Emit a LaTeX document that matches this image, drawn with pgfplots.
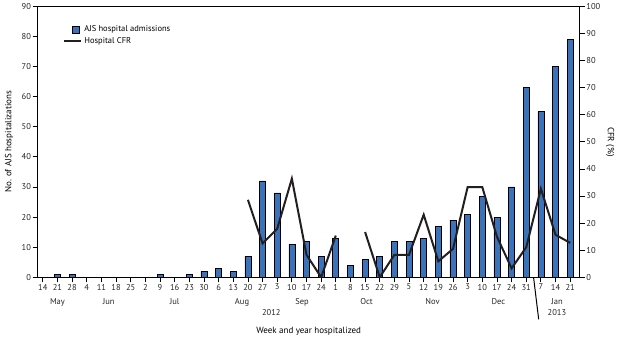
\documentclass[border=0pt]{standalone}
\usepackage{pgfplots}
\pgfplotsset{compat=1.18}
\usepackage{pgfplotstable}
\usepackage{fontspec}
\setmainfont{PT Sans}
\definecolor{barblue}{RGB}{58,115,186}
\definecolor{linedark}{RGB}{35,31,32}

\pgfplotstableread{
i n
0 0
1 1
2 1
3 0
4 0
5 0
6 0
7 0
8 1
9 0
10 1
11 2
12 3
13 2
14 7
15 32
16 28
17 11
18 12
19 7
20 13
21 4
22 6
23 7
24 12
25 12
26 13
27 17
28 19
29 21
30 27
31 20
32 30
33 63
34 55
35 70
36 79
}\admissions

\begin{document}
\begin{tikzpicture}
\useasboundingbox (-37.7pt,-60.7pt) rectangle (583.3pt,277.3pt);
\begin{axis}[
  scale only axis, width=542pt, height=271pt,
  xmin=-0.35, xmax=36.65, ymin=0, ymax=90,
  xtick pos=bottom, ytick pos=left,
  tick align=outside, major tick length=5pt,
  xtick={0,...,36},
  xticklabels={14,21,28,4,11,18,25,2,9,16,23,30,6,13,20,27,3,10,17,24,1,8,15,22,29,5,12,19,26,3,10,17,24,31,7,14,21},
  ytick={0,10,...,90},
  /pgf/number format/assume math mode=true,
  tick label style={font=\fontsize{8.5}{10}\selectfont, text=black!85},
  xticklabel style={inner sep=1.5pt},
  yticklabel style={inner sep=1.5pt},
  axis line style={line width=1.1pt},
  tick style={line width=0.8pt, black},
  ylabel={No. of AJS hospitalizations},
  ylabel style={font=\fontsize{9}{10}\selectfont, at={(axis description cs:-0.053,0.5)}, anchor=center},
  clip=false,
]
\addplot[ybar, bar width=6pt, fill=barblue, draw=black, line width=0.7pt] table[x=i, y=n] {\admissions};
\begin{scope}[every node/.style={font=\fontsize{8.5}{10}\selectfont, anchor=base, text=black!85}]
\node[yshift=-27pt] at (axis cs:1,0) {May};
\node[yshift=-27pt] at (axis cs:4.5,0) {Jun};
\node[yshift=-27pt] at (axis cs:9,0) {Jul};
\node[yshift=-27pt] at (axis cs:13.6,0) {Aug};
\node[yshift=-27pt] at (axis cs:17.7,0) {Sep};
\node[yshift=-27pt] at (axis cs:22.1,0) {Oct};
\node[yshift=-27pt] at (axis cs:26.6,0) {Nov};
\node[yshift=-27pt] at (axis cs:31.1,0) {Dec};
\node[yshift=-27pt] at (axis cs:35.1,0) {Jan};
\node[yshift=-38pt] at (axis cs:15.6,0) {2012};
\node[yshift=-38pt] at (axis cs:35.1,0) {2013};
\end{scope}
\draw[line width=1pt] (axis cs:33.5,0) -- ++(0,-42pt);
\node[font=\fontsize{9}{10}\selectfont, anchor=base] at (axis cs:18.15,0) [yshift=-56pt] {Week and year hospitalized};
\end{axis}
\begin{axis}[
  scale only axis, width=542pt, height=271pt,
  xmin=-0.35, xmax=36.65, ymin=0, ymax=100,
  axis x line=none, axis y line*=right,
  tick align=outside, major tick length=5pt,
  ytick={0,10,...,100},
  /pgf/number format/assume math mode=true,
  tick label style={font=\fontsize{8.5}{10}\selectfont, text=black!85},
  yticklabel style={inner sep=1.5pt},
  axis line style={line width=1.1pt},
  tick style={line width=0.8pt, black},
  ylabel={CFR (\%)},
  ylabel style={font=\fontsize{9}{10}\selectfont, rotate=180, at={(axis description cs:1.056,0.5)}, anchor=center},
  legend style={at={(0.045,0.94)}, anchor=north west, draw=none, fill=none,
    font=\fontsize{8.5}{10}\selectfont, row sep=0pt, inner sep=1pt},
  legend cell align=left,
]
\addlegendimage{legend image code/.code={\draw[fill=barblue, draw=black, line width=0.7pt] (8pt,-3.5pt) rectangle (15pt,3.5pt);}}
\addlegendentry{AJS hospital admissions}
\addplot[linedark, line width=2pt, unbounded coords=jump] coordinates {
(14,28.6) (15,12.5) (16,17.9) (17,36.4) (18,8.3) (19,0) (20,15.4) (21,nan)
(22,16.7) (23,0) (24,8.3) (25,8.3) (26,23.1) (27,5.9) (28,10.5) (29,33.3)
(30,33.3) (31,15.0) (32,3.3) (33,11.1) (34,32.7) (35,15.7) (36,12.7)
};
\addlegendentry{Hospital CFR}
\end{axis}
\end{tikzpicture}
\end{document}
